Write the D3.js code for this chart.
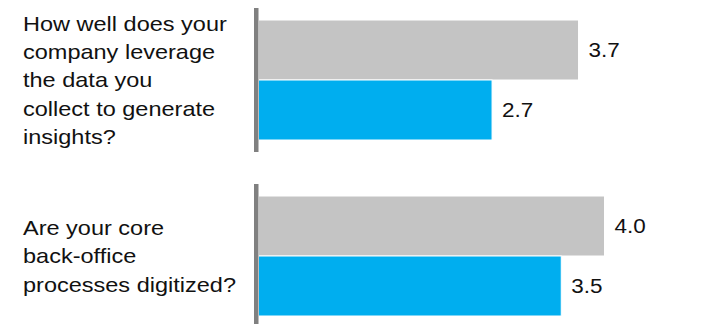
<!DOCTYPE html>
<html>
<head>
<meta charset="utf-8">
<script src="https://cdn.jsdelivr.net/npm/d3@7"></script>
<style>
  body { margin: 0; background: #fff; }
  text { font-family: "Liberation Sans", Arial, sans-serif; fill: #111; }
</style>
</head>
<body>
<svg id="chart" width="720" height="324"></svg>
<script>
// question labels, already broken into lines as in the source
const questions = [
    ["How well does your", "company leverage", "the data you", "collect to generate", "insights?"],
    ["Are your core", "back-office", "processes digitized?"]
];
const seriesNames = ["benchmark", "respondents"];
const benchmarkValues = [3.7, 4.0];
const respondentValues = [2.7, 3.5];
const seriesColors = ["#c4c4c4", "#00aeef"];

const width = 720, height = 324;
const svg = d3.select("#chart");

// build rows from the arrays
let rows = questions.map((q, i) => ({
    key: i,
    lines: q,
    bars: [
        { series: seriesNames[0], value: benchmarkValues[i] },
        { series: seriesNames[1], value: respondentValues[i] }
    ]
}));

let x = d3.scaleLinear()
    .domain([0, 5])
    .range([258.5, 691]);

let yGroup = d3.scaleBand()
    .domain(rows.map(d => d.key))
    .range([8, 328])
    .paddingInner(32 / 176)
    .paddingOuter(0);

let ySeries = d3.scaleBand()
    .domain(seriesNames)
    .range([12, 132])
    .padding(0);

let color = d3.scaleOrdinal()
    .domain(seriesNames)
    .range(seriesColors);

let groups = svg.selectAll("g.group")
    .data(rows)
    .join("g")
    .attr("class", "group")
    .attr("transform", d => `translate(0,${yGroup(d.key)})`);

// bars
groups.selectAll("rect.bar")
    .data(d => d.bars)
    .join("rect")
    .attr("class", "bar")
    .attr("x", x(0))
    .attr("y", d => ySeries(d.series))
    .attr("width", d => x(d.value) - x(0))
    .attr("height", ySeries.bandwidth())
    .attr("fill", d => color(d.series))
    .attr("stroke", "#fff")
    .attr("stroke-width", 1);

// value labels (source font is a bit wider than Liberation, stretch slightly)
groups.selectAll("text.value")
    .data(d => d.bars)
    .join("text")
    .attr("class", "value")
    .attr("transform", d => `translate(${x(d.value) + 10},${ySeries(d.series) + ySeries.bandwidth() / 2}) scale(1.07,1)`)
    .attr("dy", "0.35em")
    .attr("font-size", 21)
    .text(d => d3.format(".1f")(d.value));

// vertical axis line per group
groups.append("rect")
    .attr("x", x(0) - 4.5)
    .attr("y", 0)
    .attr("width", 4.5)
    .attr("height", yGroup.bandwidth())
    .attr("fill", "#808080");

// question text, centred on the bars
const lineHeight = 28.2;
groups.each(function(d) {
    let g = d3.select(this);
    let mid = (ySeries.range()[0] + ySeries.range()[1]) / 2;
    let first = mid - (d.lines.length - 1) / 2 * lineHeight;
    g.append("text")
        .attr("class", "question")
        .attr("font-size", 21)
        .attr("transform", "translate(23,0) scale(1.12,1)")
        .selectAll("tspan")
        .data(d.lines)
        .join("tspan")
        .attr("x", 0)
        .attr("y", (l, i) => first + i * lineHeight)
        .attr("dy", "0.35em")
        .text(l => l);
});
</script>
</body>
</html>
